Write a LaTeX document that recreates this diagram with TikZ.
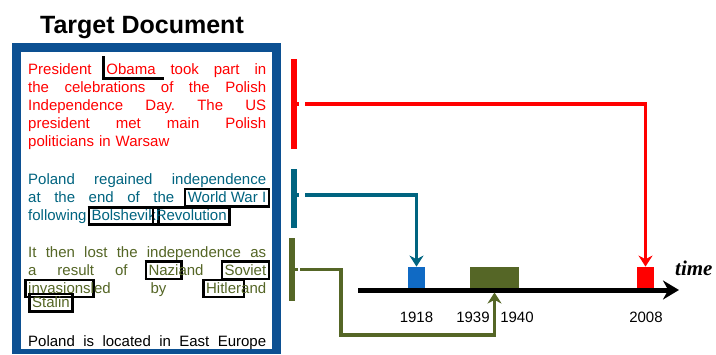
\documentclass[tikz,border=0pt]{standalone}
\usepackage{fontspec}
\setmainfont{Liberation Sans}
\newfontfamily\timefont{Liberation Serif}
\usetikzlibrary{arrows.meta}

\definecolor{docblue}{RGB}{12,80,146}
\definecolor{evred}{RGB}{255,0,0}
\definecolor{evteal}{RGB}{0,100,128}
\definecolor{evolive}{RGB}{85,102,38}
\definecolor{markblue}{RGB}{16,106,196}

\newsavebox\entbox
\newcommand\ent[1]{\colorlet{enttext}{.}\kern-4pt\smash{\setlength\fboxsep{1.5pt}\setlength\fboxrule{2.5pt}\color{black}\fbox{\color{enttext}\rule[-1pt]{0pt}{11pt}#1}}\kern-4pt}
\newcommand\halfent[1]{\sbox\entbox{#1}\smash{\color{black}\rlap{\hspace{-4pt}\rule[-5.5pt]{2.5pt}{23.5pt}}\rlap{\hspace{-4pt}\rule[-5.5pt]{\dimexpr\wd\entbox+12pt\relax}{2.5pt}}}\usebox\entbox}
\newcommand\fline[1]{\makebox[238pt][s]{\spaceskip=.28em plus 1fil\xspaceskip=.28em plus 1fil #1}}

\begin{document}
\begin{tikzpicture}[x=1pt,y=-1pt,
		para/.style={anchor=base west, inner sep=0pt, text width=238pt, align=left, font=\fontsize{15}{18.2}\selectfont},
		year/.style={anchor=base, inner sep=0pt, font=\fontsize{15}{18}\selectfont},
		evbar/.style={fill=#1, draw=none, minimum width=6pt, inner sep=0pt},
		evmark/.style={fill=#1, draw=none, anchor=south, minimum height=21pt, inner sep=0pt},
		evlink/.style={draw=#1, line width=3.3pt, -{Stealth[length=11pt,width=14pt]}}]
				\useasboundingbox (0,0) rectangle (716,354);
				
				\node[anchor=base, inner sep=0pt, font=\fontsize{25}{30}\selectfont\bfseries] (title) at (142,33) {Target Document};
				
				\fill[docblue] (12,43) rectangle (281,354);
				\fill[white] (21,52) rectangle (272,349);
				
				\node[para, text=evred] (redtext) at (28,74) {\fline{President \halfent{Obama} took part in}\\
					\fline{the celebrations of the Polish}\\
					\fline{Independence Day. The US}\\
					\fline{president met main Polish}\\
					politicians in Warsaw};
				\node[para, text=evteal] (tealtext) at (28,184.5) {\fline{Poland regained independence}\\
					\fline{at the end of the \ent{World War I}}\\
					following \ent{Bolshevik} \ent{Revolution}};
				\node[para, text=evolive] (olivetext) at (28,257) {\fline{It then lost the independence as}\\
					\fline{a result of \ent{Nazi} and \ent{Soviet}}\\
					\fline{\ent{invasions} led by \ent{Hitler} and}\\
					\ent{Stalin}};
				\node[para] (basetext) at (28,346.5) {\fline{Poland is located in East Europe}};
				
				\node[evbar=evred, minimum height=90pt] (redbar) at (294,104) {};
				\node[evbar=evteal, minimum height=59pt] (tealbar) at (294,198.5) {};
				\node[evbar=evolive, minimum height=63pt] (olivebar) at (292,269.5) {};
				
				\coordinate (tstart) at (358,290);
				\coordinate (tend) at (679,290);
				\draw[line width=5pt, -{Stealth[length=16pt,width=19pt]}] (tstart) -- (tend);
				\node[anchor=base west, inner sep=0pt, font=\timefont\fontsize{21}{25}\selectfont\bfseries\itshape] (timelabel) at (675,275) {time};
				
				\node[evmark=markblue, minimum width=17pt] (mark1918) at (416.5,288) {};
				\node[evmark=evolive, minimum width=49pt] (mark1939) at (494.5,288) {};
				\node[evmark=evred, minimum width=17pt] (mark2008) at (645.5,288) {};
				
				\node[year] (y1918) at (416.5,322) {1918};
				\node[year] (y1939) at (473,322) {1939};
				\node[year] (y1940) at (517,322) {1940};
				\node[year] (y2008) at (646,322) {2008};
				
				\draw[evred, line width=3.3pt] (redbar.east) -- ++(1.5,0);
				\draw[evlink=evred] ([xshift=8pt]redbar.east) -| (mark2008.north);
				\draw[evteal, line width=3.3pt] ([yshift=3.5pt]tealbar.east) -- ++(1.5,0);
				\draw[evlink=evteal] ([xshift=8pt,yshift=3.5pt]tealbar.east) -| (mark1918.north);
				\coordinate (olivebend) at (341,335);
				\draw[evolive, line width=3.3pt] (olivebar.east) -- ++(3,0);
				\draw[evlink=evolive] ([xshift=5pt]olivebar.east) -| (olivebend) -| ([yshift=-4.5pt]mark1939.south);
			\end{tikzpicture}
\end{document}
